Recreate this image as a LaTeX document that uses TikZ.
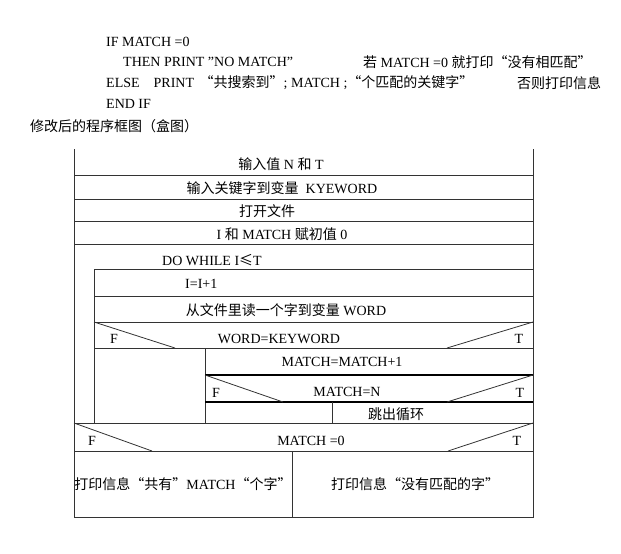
\documentclass[tikz,border=0pt]{standalone}
\usepackage{fontspec}
\setmainfont{Liberation Serif}
\newfontfamily\cjk{Noto Sans CJK SC}
\newcommand{\zh}[1]{{\cjk #1}}
\usetikzlibrary{positioning}

\tikzset{
  txt/.style={anchor=west, inner sep=0pt},
  lbl/.style={inner sep=0pt},
  box/.style={line width=0.8pt, draw=black!80},
  heavy/.style={line width=1.8pt, draw=black}
}

\begin{document}
\begin{tikzpicture}[x=1pt, y=-1pt, font=\fontsize{14}{16}\selectfont]
    \useasboundingbox (0,0) rectangle (621,554);

    % pseudo code above the chart
    \node[txt] (ifline)   at (106,42)  {IF MATCH =0};
    \node[txt] (thenline) at (123,62)  {THEN PRINT ”NO MATCH”};
    \node[txt] (thennote) at (363,62)  {\zh{若} MATCH =0 \zh{就打印“没有相匹配”}};
    \node[txt] (elseline) at (106,83)  {ELSE\hspace{1em}PRINT\hspace{0.4em}\zh{“共搜索到”}; MATCH ;\zh{“个匹配的关键字”}};
    \node[txt] (elsenote) at (517,83)  {\zh{否则打印信息}};
    \node[txt] (endline)  at (106,104) {END IF};
    \node[txt] (caption)  at (30,126)  {\zh{修改后的程序框图（盒图）}};

    % outer frame and sequence rows
    \path[box] (74,149) -- (74,517) -- (533,517) -- (533,149);
    \foreach \y in {175,199,221,244,423,451}
        \path[box] (74,\y) -- (533,\y);

    % loop body
    \path[box] (94,423) -- (94,269) -- (533,269);
    \foreach \y in {296,322,348}
        \path[box] (94,\y) -- (533,\y);
    \path[box] (94,322) -- (175,348) (533,322) -- (447,348);

    % inner decision
    \path[box] (205,348) -- (205,423);
    \path[heavy] (205,375) -- (533,375) (205,402) -- (533,402);
    \path[box] (205,375) -- (283,402) (533,375) -- (447,402);
    \path[box] (332,402) -- (332,423);

    % final decision
    \path[box] (74,423) -- (152,451) (533,423) -- (448,451);
    \path[box] (292,451) -- (292,517);

    % labels
    \node[lbl] (readnt)   at (281,164) {\zh{输入值} N \zh{和} T};
    \node[lbl] (readkey)  at (282,188) {\zh{输入关键字到变量}\hspace{0.5em}KYEWORD};
    \node[lbl] (openfile) at (267,211) {\zh{打开文件}};
    \node[lbl] (init)     at (282,234) {I \zh{和} MATCH \zh{赋初值} 0};
    \node[lbl] (dowhile)  at (212,260) {DO WHILE I\zh{≤}T};
    \node[txt] (incr)     at (185,284) {I=I+1};
    \node[lbl] (readword) at (286,310) {\zh{从文件里读一个字到变量} WORD};
    \node[lbl] (fa)       at (114,339) {F};
    \node[lbl] (testa)    at (279,339) {WORD=KEYWORD};
    \node[lbl] (ta)       at (519,339) {T};
    \node[lbl] (count)    at (342,362) {MATCH=MATCH+1};
    \node[lbl] (fb)       at (216,393) {F};
    \node[lbl] (testb)    at (347,392) {MATCH=N};
    \node[lbl] (tb)       at (520,393) {T};
    \node[lbl] (leave)    at (396,414) {\zh{跳出循环}};
    \node[lbl] (fc)       at (92,441)  {F};
    \node[lbl] (testc)    at (311,441) {MATCH =0};
    \node[lbl] (tc)       at (517,441) {T};
    \node[lbl] (printf)   at (183,484) {\zh{打印信息“共有”}MATCH\zh{“个字”}};
    \node[lbl] (printt)   at (415,484) {\zh{打印信息“没有匹配的字”}};

\end{tikzpicture}
\end{document}
